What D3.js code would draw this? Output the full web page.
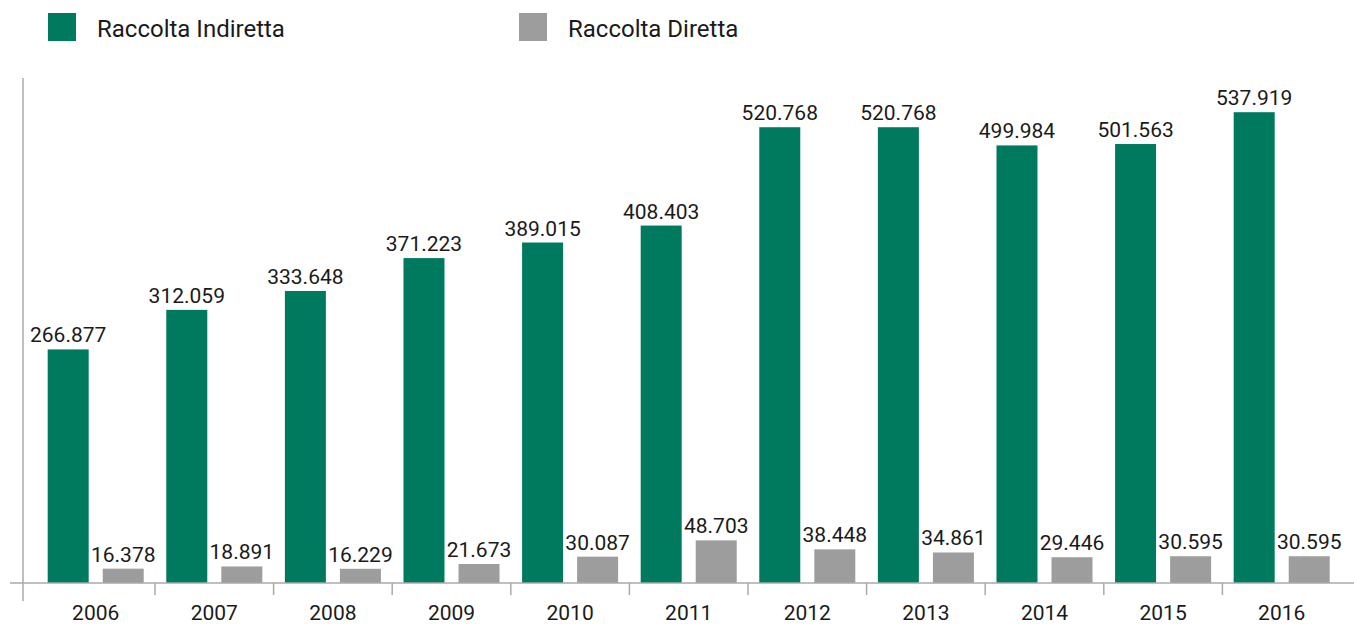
<!DOCTYPE html>
<html>
<head>
<meta charset="utf-8">
<script src="https://cdn.jsdelivr.net/npm/d3@7"></script>
<style>
  html, body { margin: 0; padding: 0; background: #fff; }
  svg { display: block; font-family: Roboto, "Noto Sans", sans-serif; }
</style>
</head>
<body>
<svg id="chart" width="1354" height="624"></svg>
<script>
const years = ["2006","2007","2008","2009","2010","2011","2012","2013","2014","2015","2016"];
const indiretta = [266.877, 312.059, 333.648, 371.223, 389.015, 408.403, 520.768, 520.768, 499.984, 501.563, 537.919];
const diretta = [16.378, 18.891, 16.229, 21.673, 30.087, 48.703, 38.448, 34.861, 29.446, 30.595, 30.595];
const seriesNames = ["Raccolta Indiretta", "Raccolta Diretta"];
const colors = ["#007a5e", "#9d9d9e"];

const svg = d3.select("#chart");
const fmt = v => v.toFixed(3);

const x = d3.scaleBand().domain(years).range([36.4, 1341]).paddingInner(0).paddingOuter(0);
const inner = d3.scaleBand().domain([0, 1]).range([0, x.bandwidth()]).paddingInner(0.255).paddingOuter(0.205);
const y = d3.scaleLinear().domain([0, 577]).range([583, 78]);

const data = years.map((yr, i) => ({ yr, vals: [indiretta[i], diretta[i]] }));

// bars
const g = svg.append("g");
const groups = g.selectAll("g.yr").data(data).join("g")
  .attr("transform", d => `translate(${x(d.yr)},0)`);
groups.selectAll("rect").data(d => d.vals.map((v, k) => ({ v, k }))).join("rect")
  .attr("x", d => inner(d.k))
  .attr("width", inner.bandwidth())
  .attr("y", d => y(d.v))
  .attr("height", d => y(0) - y(d.v))
  .attr("fill", d => colors[d.k]);
groups.selectAll("text").data(d => d.vals.map((v, k) => ({ v, k }))).join("text")
  .attr("x", d => inner(d.k) + inner.bandwidth() / 2)
  .attr("y", d => y(d.v) - 7)
  .attr("text-anchor", "middle")
  .attr("font-size", 21)
  .attr("fill", "#1a1a1a")
  .text(d => fmt(d.v));

// x axis baseline
svg.append("line").attr("x1", 10).attr("x2", 1354).attr("y1", y(0)).attr("y2", y(0))
  .attr("stroke", "#aaa").attr("stroke-width", 1.5);
// y axis line
svg.append("line").attr("x1", 23).attr("x2", 23).attr("y1", y.range()[1]).attr("y2", 601)
  .attr("stroke", "#aaa").attr("stroke-width", 1.5);
// ticks between categories
svg.selectAll("line.tick").data(years.slice(1)).join("line")
  .attr("class", "tick")
  .attr("x1", d => x(d)).attr("x2", d => x(d))
  .attr("y1", y(0)).attr("y2", 595)
  .attr("stroke", "#aaa").attr("stroke-width", 1.5);
// tick labels
svg.selectAll("text.xl").data(years).join("text")
  .attr("class", "xl")
  .attr("x", d => x(d) + x.bandwidth() / 2)
  .attr("y", 620)
  .attr("text-anchor", "middle")
  .attr("font-size", 21)
  .attr("fill", "#1a1a1a")
  .text(d => d);

// legend
const legX = [48, 519];
const leg = svg.selectAll("g.leg").data(seriesNames).join("g")
  .attr("class", "leg")
  .attr("transform", (d, i) => `translate(${legX[i]},0)`);
leg.append("rect").attr("x", 0).attr("y", 13).attr("width", 28).attr("height", 28)
  .attr("fill", (d, i) => colors[i]);
leg.append("text").attr("x", 49).attr("y", 37).attr("font-size", 24)
  .attr("fill", "#1a1a1a").text(d => d);
</script>
</body>
</html>
